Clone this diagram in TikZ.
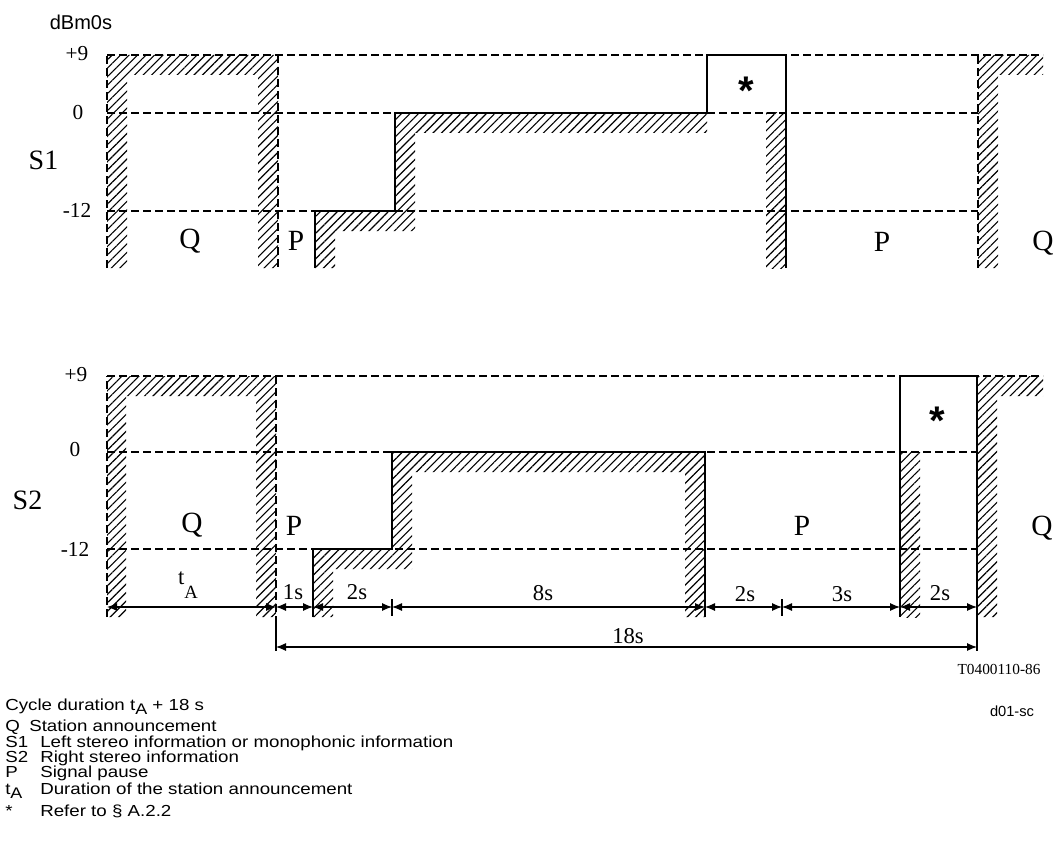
\documentclass[tikz,border=0pt]{standalone}
\usepackage{fontspec}
\setmainfont{Liberation Serif}
\setsansfont{Liberation Sans}
\newfontfamily\legfont[FakeStretch=1.17]{Liberation Sans}
\usetikzlibrary{arrows.meta,patterns.meta}

\newcommand{\legA}{\raisebox{-0.5ex}{\fontsize{11.5}{11.5}\selectfont A}}
\newcommand{\dimA}{\raisebox{-1.4ex}{\fontsize{14}{14}\selectfont A}}

\begin{document}
\begin{tikzpicture}[x=0.75pt, y=-0.75pt,
  sig/.style={line width=1.5pt},
  guide/.style={line width=0.9pt, dash pattern=on 6pt off 3pt},
  hatch/.style={pattern={Lines[angle=45,distance=4.5pt,line width=0.85pt]}},
  dimline/.style={line width=0.8pt, {Latex[length=7.5pt,width=6pt]}-{Latex[length=7.5pt,width=6pt]}},
  tick/.style={line width=0.8pt},
  lvl/.style={font=\fontsize{16}{16}\selectfont},
  zone/.style={font=\fontsize{22}{22}\selectfont},
  chan/.style={anchor=west, font=\fontsize{21}{21}\selectfont},
  dlabel/.style={font=\fontsize{17}{17}\selectfont},
  star/.style={font=\sffamily\bfseries\fontsize{30}{30}\selectfont},
  leg/.style={anchor=base west, inner sep=0pt, font=\legfont\fontsize{12}{12}\selectfont}
]
  \useasboundingbox (0,0) rectangle (1056,863);

  % Hatched zones, S1
  \fill[hatch] (107,55) -- (278,55) -- (278,268) -- (258,268) -- (258,75)
    -- (127,75) -- (127,268) -- (107,268) -- cycle;
  \fill[hatch] (315,268) -- (315,211) -- (395,211) -- (395,113) -- (707,113)
    -- (707,133) -- (415,133) -- (415,231) -- (335,231) -- (335,268) -- cycle;
  \fill[hatch] (766,113) rectangle (786,268);
  \fill[hatch] (978,268) -- (978,55) -- (1043,55) -- (1043,75) -- (998,75)
    -- (998,268) -- cycle;

  % Hatched zones, S2
  \fill[hatch] (107,376) -- (276,376) -- (276,617) -- (256,617) -- (256,396)
    -- (126,396) -- (126,617) -- (107,617) -- cycle;
  \fill[hatch] (313,617) -- (313,549) -- (392,549) -- (392,452) -- (705,452)
    -- (705,617) -- (685,617) -- (685,472) -- (412,472) -- (412,569)
    -- (333,569) -- (333,617) -- cycle;
  \fill[hatch] (900,452) rectangle (920,617);
  \fill[hatch] (977,617) -- (977,376) -- (1043,376) -- (1043,396) -- (997,396)
    -- (997,617) -- cycle;

  % Level lines
  \draw[guide] (107,55) -- (1043,55);
  \draw[guide] (107,113) -- (978,113);
  \draw[guide] (107,211) -- (978,211);
  \draw[guide] (107,376) -- (1043,376);
  \draw[guide] (107,452) -- (977,452);
  \draw[guide] (107,549) -- (977,549);

  % Announcement edges
  \draw[guide] (107,268) -- (107,55);
  \draw[guide] (278,55) -- (278,268);
  \draw[guide] (978,268) -- (978,55);
  \draw[guide] (107,617) -- (107,376);
  \draw[guide] (276,376) -- (276,617);

  % Signal levels
  \draw[sig] (315,268) -- (315,211) -- (395,211) -- (395,113) -- (707,113)
    -- (707,55) -- (786,55) -- (786,268);
  \draw[sig] (313,617) -- (313,549) -- (392,549) -- (392,452) -- (705,452)
    -- (705,617);
  \draw[sig] (900,617) -- (900,376) -- (977,376) -- (977,617);

  % Axis labels
  \node[font=\sffamily\fontsize{15}{15}\selectfont] (unit) at (81,22) {dBm0s};
  \node[lvl] (s1-p9) at (77,54) {+9};
  \node[lvl] (s1-z)  at (78,113) {0};
  \node[lvl] (s1-m12) at (77,210) {-12};
  \node[lvl] (s2-p9) at (76,375) {+9};
  \node[lvl] (s2-z)  at (75,450) {0};
  \node[lvl] (s2-m12) at (75,549) {-12};
  \node[chan] (s1-name) at (24,160) {S1};
  \node[chan] (s2-name) at (8,500) {S2};

  % Zone labels
  \node[zone] (s1-q1) at (190,241) {Q};
  \node[zone] (s1-p1) at (296,241) {P};
  \node[zone] (s1-p2) at (882,242) {P};
  \node[zone] (s1-q2) at (1043,243) {Q};
  \node[zone] (s2-q1) at (192,525) {Q};
  \node[zone] (s2-p1) at (294,526) {P};
  \node[zone] (s2-p2) at (802,526) {P};
  \node[zone] (s2-q2) at (1042,528) {Q};
  \node[star] (s1-star) at (746,91) {*};
  \node[star] (s2-star) at (937,421) {*};

  % Durations
  \coordinate (d0) at (107,607);
  \coordinate (d1) at (276,607);
  \coordinate (d2) at (313,607);
  \coordinate (d3) at (392,607);
  \coordinate (d4) at (705,607);
  \coordinate (d5) at (782,607);
  \coordinate (d6) at (900,607);
  \coordinate (d7) at (977,607);
  \draw[dimline] (d0) -- (d1);
  \draw[dimline] (d1) -- (d2);
  \draw[dimline] (d2) -- (d3);
  \draw[dimline] (d3) -- (d4);
  \draw[dimline] (d4) -- (d5);
  \draw[dimline] (d5) -- (d6);
  \draw[dimline] (d6) -- (d7);
  \draw[tick] (392,599) -- (392,616);
  \draw[tick] (782,599) -- (782,616);
  \draw[tick] (276,617) -- (276,651);
  \draw[tick] (977,617) -- (977,651);
  \coordinate (c0) at (276,647);
  \coordinate (c1) at (977,647);
  \draw[dimline] (c0) -- (c1);

  \node[dlabel] (t-ta) at (188,585) {t\dimA};
  \node[dlabel] (t-1s) at (293,592) {1s};
  \node[dlabel] (t-2a) at (357,592) {2s};
  \node[dlabel] (t-8s) at (543,593) {8s};
  \node[dlabel] (t-2b) at (745,594) {2s};
  \node[dlabel] (t-3s) at (842,594) {3s};
  \node[dlabel] (t-2c) at (940,593) {2s};
  \node[dlabel] (t-18) at (628,636) {18s};

  \node[font=\fontsize{11.5}{11.5}\selectfont] (fig-id) at (999,669) {T0400110-86};
  \node[font=\sffamily\fontsize{11}{11}\selectfont] (file-id) at (1012,711) {d01-sc};

  % Legend
  \node[leg] (leg-cyc) at (5,710) {Cycle duration t\legA{} + 18 s};
  \node[leg] (key-q)  at (5,731) {Q};
  \node[leg] (txt-q)  at (29,731) {Station announcement};
  \node[leg] (key-s1) at (5,747) {S1};
  \node[leg] (txt-s1) at (40,747) {Left stereo information or monophonic information};
  \node[leg] (key-s2) at (5,762) {S2};
  \node[leg] (txt-s2) at (40,762) {Right stereo information};
  \node[leg] (key-p)  at (5,777) {P};
  \node[leg] (txt-p)  at (40,777) {Signal pause};
  \node[leg] (key-ta) at (5,794) {t\legA};
  \node[leg] (txt-ta) at (40,794) {Duration of the station announcement};
  \node[leg] (key-st) at (5,816) {*};
  \node[leg] (txt-st) at (40,816) {Refer to § A.2.2};
\end{tikzpicture}
\end{document}
